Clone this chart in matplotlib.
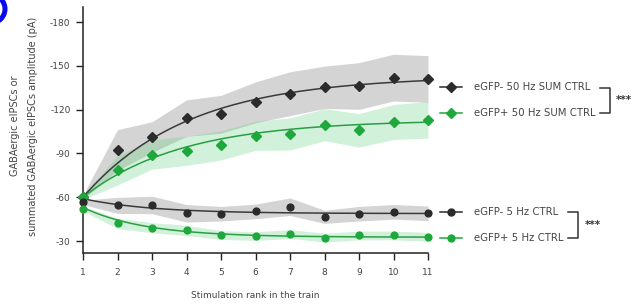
import numpy as np
import matplotlib
matplotlib.use("Agg")
import matplotlib.pyplot as plt
from matplotlib.lines import Line2D
from matplotlib.patches import Circle

plt.rcParams['axes.unicode_minus'] = False
plt.rcParams['font.family'] = ['DejaVu Sans']

# ---------------- data ----------------
stim_rank = [1, 2, 3, 4, 5, 6, 7, 8, 9, 10, 11]

neg_50hz_mean = [-60, -92.3, -101.2, -114.2, -116.8, -125.0, -130.9, -135.3, -136.2, -141.9, -141.0]
neg_50hz_sem = [1.5, 14, 10.5, 12.5, 13, 14, 15, 14.5, 16, 16, 16]
pos_50hz_mean = [-60, -78.4, -89.2, -91.8, -95.5, -102.1, -103.3, -109.7, -105.8, -111.5, -113.0]
pos_50hz_sem = [1.5, 10, 10, 10, 10, 10, 11, 11, 11.5, 12, 12.5]

neg_5hz_mean = [-56.5, -54.4, -54.7, -49.0, -48.7, -50.3, -53.5, -46.6, -48.7, -50.0, -49.0]
neg_5hz_sem = [1.5, 5.5, 6, 6, 5, 5, 6, 4.5, 5, 5, 5]
pos_5hz_mean = [-52.1, -42.1, -39.1, -37.3, -34.1, -33.4, -34.8, -32.3, -33.8, -33.8, -32.9]
pos_5hz_sem = [1.5, 3.5, 3.5, 3.5, 3, 3, 3, 3, 3, 3, 3]

# exponential fit parameters: start, plateau, rate
fit_neg_50hz = (-60, -143, 0.33)
fit_pos_50hz = (-60, -113, 0.35)
fit_neg_5hz = (-59, -48.8, 0.5)
fit_pos_5hz = (-53, -32.6, 0.55)

labels = ["eGFP- 50 Hz SUM CTRL", "eGFP+ 50 Hz SUM CTRL", "eGFP- 5 Hz CTRL", "eGFP+ 5 Hz CTRL"]
yticks = [-180, -150, -120, -90, -60, -30]
ylabel = "GABAergic eIPSCs or\nsummated GABAergic eIPSCs amplitude (pA)"
xlabel = "Stimulation rank in the train"

# ---------------- style ----------------
BLACK = '#2b2b2b'
BLACK_LINE = '#3a3a3a'
GREEN = '#1ea83c'
GREEN_LINE = '#2a9e42'
GRAY_BAND = '#9a9a9a'
GREEN_BAND = '#5fd07a'

W, H = 637, 308
fig = plt.figure(figsize=(W / 100, H / 100), dpi=100)
ax = fig.add_axes([83 / W, 55 / H, (428 - 83) / W, (301 - 55) / H])

x = np.array(stim_rank, dtype=float)
xf = np.linspace(1, 11, 200)


def fit(p):
    s, pl, k = p
    return pl + (s - pl) * np.exp(-k * (xf - 1))


series = [
    (neg_50hz_mean, neg_50hz_sem, fit_neg_50hz, BLACK, BLACK_LINE, GRAY_BAND, 0.42, 'D', 5.0),
    (pos_50hz_mean, pos_50hz_sem, fit_pos_50hz, GREEN, GREEN_LINE, GREEN_BAND, 0.28, 'D', 5.0),
    (neg_5hz_mean, neg_5hz_sem, fit_neg_5hz, BLACK, BLACK_LINE, GRAY_BAND, 0.42, 'o', 4.9),
    (pos_5hz_mean, pos_5hz_sem, fit_pos_5hz, GREEN, GREEN_LINE, GREEN_BAND, 0.28, 'o', 4.9),
]

for m, s, p, c, lc, bc, a, mk, ms in series:
    m = np.array(m)
    s = np.array(s)
    ax.fill_between(x, m - s, m + s, color=bc, alpha=a, linewidth=0, zorder=1)
for m, s, p, c, lc, bc, a, mk, ms in series:
    ax.plot(xf, fit(p), color=lc, lw=1.1, zorder=3)
    ax.plot(x, m, linestyle='none', marker=mk, ms=ms, color=c, zorder=4, clip_on=False)

ax.set_xlim(1, 11)
ax.set_ylim(-21.8, -190.3)
ax.set_xticks(stim_rank)
ax.set_yticks(yticks)
ax.set_yticklabels([str(v) for v in yticks])
for sp in ['top', 'right']:
    ax.spines[sp].set_visible(False)
for sp in ['left', 'bottom']:
    ax.spines[sp].set_linewidth(1.1)
    ax.spines[sp].set_color('#222222')
ax.tick_params(axis='both', length=5, width=1.0, color='#222222', labelsize=6.5,
               labelcolor='#444444', pad=4)
ax.tick_params(axis='x', pad=6)

fig.text(255 / W, 1 - 296 / H, xlabel, ha='center', va='center', fontsize=6.5, color='#444444')
fig.text(24 / W, 1 - 126 / H, ylabel, ha='center', va='center', rotation=90,
         fontsize=7, color='#444444', linespacing=1.9)


# ---------------- custom legend ----------------
def fx(px):
    return px / W


def fy(py):
    return 1 - py / H


rows = [86.7, 113.3, 212.3, 238.3]
styles = [(BLACK, 'D'), (GREEN, 'D'), (BLACK, 'o'), (GREEN, 'o')]
for r, (c, mk), lab in zip(rows, styles, labels):
    fig.add_artist(Line2D([fx(440), fx(462)], [fy(r), fy(r)], color=c, lw=1.1,
                          marker=None, transform=fig.transFigure))
    fig.add_artist(Line2D([fx(451)], [fy(r)], color=c, marker=mk, ms=5.0,
                          linestyle='none', transform=fig.transFigure))
    fig.text(fx(474), fy(r), lab, ha='left', va='center', fontsize=7.3, color='#444444')

# brackets
def bracket(x0, x1, y0, y1, star_x):
    fig.add_artist(Line2D([fx(x0), fx(x1), fx(x1), fx(x0)],
                          [fy(y0), fy(y0), fy(y1), fy(y1)], color='#333333', lw=1.1,
                          transform=fig.transFigure))
    fig.text(fx(star_x), fy((y0 + y1) / 2), "***", ha='left', va='center',
             fontsize=7.5, color='#333333', fontweight='bold')


bracket(600, 610, 88, 113, 616)
bracket(568, 578, 212, 238, 585)

# partial panel-label circle at top-left
fig.add_artist(Circle((-9 / 100, (H - 9) / 100), 0.14, transform=fig.dpi_scale_trans,
                      fill=False, edgecolor='#0a0af0', linewidth=3.6))

fig.savefig('out.png', dpi=100)
